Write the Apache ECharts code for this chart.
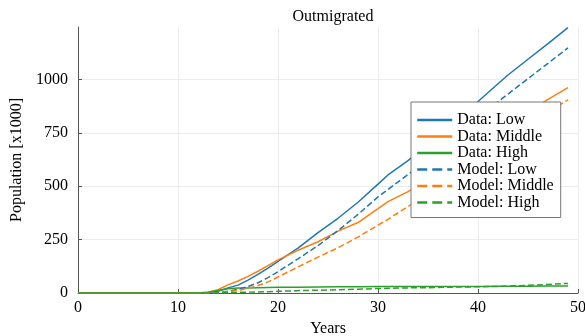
<!DOCTYPE html>
<html>
<head>
<meta charset="utf-8">
<script src="https://cdn.jsdelivr.net/npm/echarts@6/dist/echarts.min.js"></script>
<style>
  html, body { margin: 0; padding: 0; background: #fff; }
  #chart { width: 585px; height: 336px; }
</style>
</head>
<body>
<div id="chart"></div>
<script>
const years = [0, 12, 13, 14, 15, 16, 17, 18, 19, 20, 22, 24, 26, 28, 30, 31, 33, 35, 37, 40, 42, 43, 45, 47, 49];

const dataLow = [0, 0, 2, 8, 24, 37, 60, 87, 117, 148, 210, 283, 350, 425, 510, 553, 620, 700, 780, 897, 980, 1021, 1095, 1168, 1243];
const dataMiddle = [0, 0, 4, 15, 38, 56, 78, 102, 128, 155, 200, 240, 290, 330, 395, 428, 475, 530, 590, 690, 755, 785, 850, 907, 962];
const dataHigh = [0, 0, 3, 12, 20, 23, 24, 25, 26, 27, 27, 28, 29, 29, 30, 30, 30, 31, 31, 31, 32, 32, 32, 33, 33];
const modelLow = [0, 0, 0, 3, 8, 17, 30, 48, 72, 100, 160, 222, 292, 368, 450, 485, 555, 630, 705, 820, 896, 932, 1004, 1076, 1148];
const modelMiddle = [0, 0, 0, 2, 6, 12, 22, 35, 52, 75, 122, 168, 212, 262, 318, 345, 405, 467, 530, 625, 690, 720, 785, 845, 905];
const modelHigh = [0, 0, 0, 1, 2, 3, 4, 5, 6, 8, 11, 13, 15, 18, 21, 22, 24, 25, 27, 29, 31, 32, 36, 40, 45];

const xTicks = [0, 10, 20, 30, 40, 50];
const yTicks = [0, 250, 500, 750, 1000];

const colors = ["#1f77b4", "#ff7f0e", "#2ca02c"];
const font = "Liberation Serif, Times New Roman, serif";

const makeSeries = (name, values, color, dashed) => ({
  name: name,
  type: "line",
  symbol: "none",
  data: years.map((y, i) => [y, values[i]]),
  lineStyle: { color: color, width: 1.5, type: dashed ? "dashed" : "solid" },
  itemStyle: { color: color },
  z: 2,
});

const series = [
  makeSeries("Data: Low", dataLow, colors[0], false),
  makeSeries("Data: Middle", dataMiddle, colors[1], false),
  makeSeries("Data: High", dataHigh, colors[2], false),
  makeSeries("Model: Low", modelLow, colors[0], true),
  makeSeries("Model: Middle", modelMiddle, colors[1], true),
  makeSeries("Model: High", modelHigh, colors[2], true),
];

const axisColor = "#555";
const gridColor = "#ececec";

const option = {
  animation: false,
  backgroundColor: "#fff",
  title: {
    text: "Outmigrated",
    left: 328,
    top: 4,
    textAlign: "center",
    textStyle: { fontFamily: font, fontSize: 16, fontWeight: "normal", color: "#000" },
  },
  legend: {
    orient: "vertical",
    left: 411,
    top: 102,
    padding: [10, 7, 7, 5],
    itemWidth: 35,
    itemHeight: 14,
    itemGap: 0.5,
    backgroundColor: "#fff",
    borderColor: "#777",
    borderWidth: 1,
    borderRadius: 0,
    itemStyle: { opacity: 0 },
    lineStyle: { width: 2.5, opacity: 1 },
    textStyle: { fontFamily: font, fontSize: 16, color: "#000" },
    data: series.map((s) => s.name),
  },
  grid: {
    left: 78,
    right: 7,
    top: 27,
    bottom: 43,
    containLabel: false,
    outerBoundsMode: "none",
  },
  xAxis: {
    type: "value",
    min: xTicks[0],
    max: xTicks[xTicks.length - 1],
    interval: 10,
    name: "Years",
    nameLocation: "middle",
    nameGap: 28,
    nameTextStyle: { fontFamily: font, fontSize: 16, color: "#000" },
    axisLine: { show: true, onZero: false, lineStyle: { color: axisColor, width: 1 } },
    axisTick: { show: true, inside: true, length: 4, lineStyle: { color: axisColor } },
    axisLabel: { fontFamily: font, fontSize: 16, color: "#000", margin: 7 },
    splitLine: { show: true, lineStyle: { color: gridColor, width: 1 } },
  },
  yAxis: {
    type: "value",
    min: yTicks[0],
    max: 1246,
    interval: 250,
    name: "Population [x1000]",
    nameLocation: "middle",
    nameGap: 46,
    nameTextStyle: { fontFamily: font, fontSize: 16, color: "#000" },
    axisLine: { show: true, onZero: false, lineStyle: { color: axisColor, width: 1 } },
    axisTick: { show: true, inside: true, length: 4, lineStyle: { color: axisColor } },
    axisLabel: {
      fontFamily: font,
      fontSize: 16,
      color: "#000",
      margin: 10,
      showMaxLabel: false,
      formatter: (value) => String(value),
    },
    splitLine: { show: true, showMaxLine: false, lineStyle: { color: gridColor, width: 1 } },
  },
  series: series,
};

const myChart = echarts.init(document.getElementById("chart"), null, { renderer: "canvas" });
myChart.setOption(option);
</script>
</body>
</html>
